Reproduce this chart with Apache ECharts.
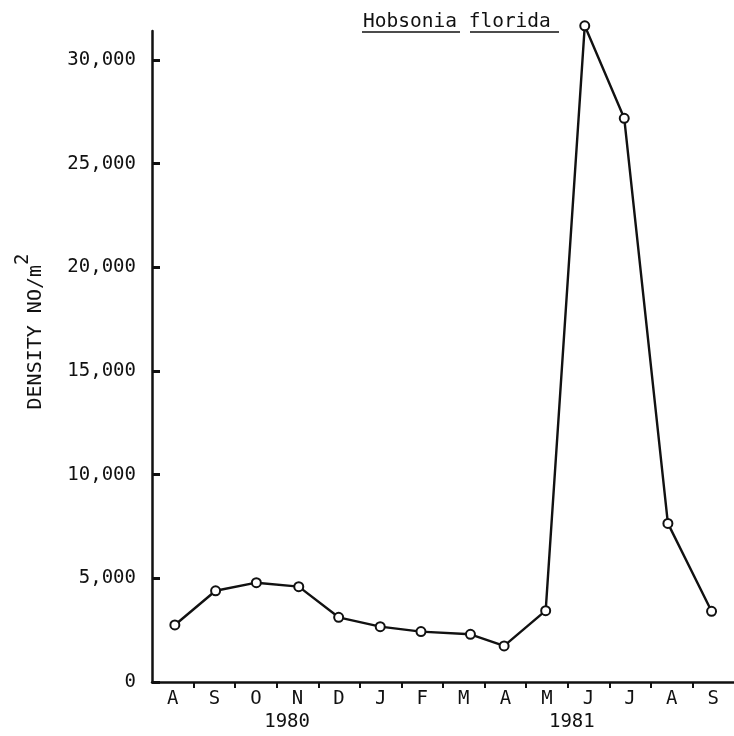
<!DOCTYPE html>
<html><head><meta charset="utf-8">
<script src="https://cdn.jsdelivr.net/npm/echarts@6/dist/echarts.min.js"></script>
<style>html,body{margin:0;padding:0;background:#fff}#c{width:734px;height:736px}</style>
</head><body><div id="c"></div>
<script>
// Data
const months = ['A','S','O','N','D','J','F','M','A','M','J','J','A','S'];
// sampling time within the month sequence (month index + fraction)
const sampleTimes = [0.55,1.53,2.51,3.53,4.49,5.49,6.47,7.66,8.47,9.47,10.41,11.36,12.41,13.46];
const density = [2750,4400,4790,4600,3120,2670,2430,2300,1740,3440,31650,27190,7650,3410];
const yTicks = [0,5000,10000,15000,20000,25000,30000];
const years = ['1980','1981'];
const yearPositions = [3.25,10.1];
const titleText = 'Hobsonia florida';

const FONT = 'DejaVu Sans Mono';
const INK = '#111';

const chart = echarts.init(document.getElementById('c'), null, {renderer:'canvas'});
const monthLabelValues = months.map((m,i)=>i+0.5);
const monthTickValues = months.slice(1).map((m,i)=>i+1);

chart.setOption({
  animation:false,
  backgroundColor:'#fff',
  grid:{left:152, right:-5, top:31, bottom:54},
  xAxis:[{
    type:'value', min:0, max:months.length,
    axisLine:{show:true, onZero:false, lineStyle:{color:INK, width:2.5}},
    axisTick:{show:true, customValues:monthTickValues, length:6, lineStyle:{color:INK, width:2}},
    axisLabel:{customValues:monthLabelValues, formatter:v=>months[Math.floor(v)],
      color:INK, fontFamily:FONT, fontSize:19, margin:8},
    splitLine:{show:false}
  },{
    type:'value', min:0, max:months.length, position:'bottom',
    axisLine:{show:false}, axisTick:{show:false}, splitLine:{show:false},
    axisLabel:{customValues:yearPositions, formatter:v=>years[yearPositions.indexOf(v)],
      color:INK, fontFamily:FONT, fontSize:19, margin:31}
  }],
  yAxis:{
    type:'value', min:0, max:31400,
    axisLine:{show:true, lineStyle:{color:INK, width:2.5}},
    axisTick:{show:true, inside:true, length:8, customValues:yTicks, lineStyle:{color:INK, width:3}},
    axisLabel:{customValues:yTicks, formatter:v=>v.toLocaleString('en-US'),
      color:INK, fontFamily:FONT, fontSize:19, margin:16},
    splitLine:{show:false},
    name:'{a|DENSITY NO/m}{s|2}', nameLocation:'middle', nameGap:106, nameRotate:90,
    nameTextStyle:{color:INK, fontFamily:FONT, padding:[0,0,0,50],
      rich:{a:{fontSize:20, fontFamily:FONT, color:INK, lineHeight:32, verticalAlign:'bottom'},
            s:{fontSize:19, fontFamily:FONT, color:INK, lineHeight:32, verticalAlign:'top'}}}
  },
  series:[{
    type:'line', xAxisIndex:0, clip:false,
    data:sampleTimes.map((t,i)=>[t, density[i]]),
    symbol:'circle', symbolSize:9, showSymbol:true,
    lineStyle:{color:INK, width:2.4},
    itemStyle:{color:'#fff', borderColor:INK, borderWidth:2}
  }],
  graphic:[
    {type:'text', left:363, top:12, style:{text:titleText, font:'19.5px "DejaVu Sans Mono"', fill:INK}},
    {type:'line', shape:{x1:362,y1:32,x2:460,y2:32}, style:{stroke:INK, lineWidth:1.5}},
    {type:'line', shape:{x1:470,y1:32,x2:559,y2:32}, style:{stroke:INK, lineWidth:1.5}}
  ]
});
</script></body></html>
